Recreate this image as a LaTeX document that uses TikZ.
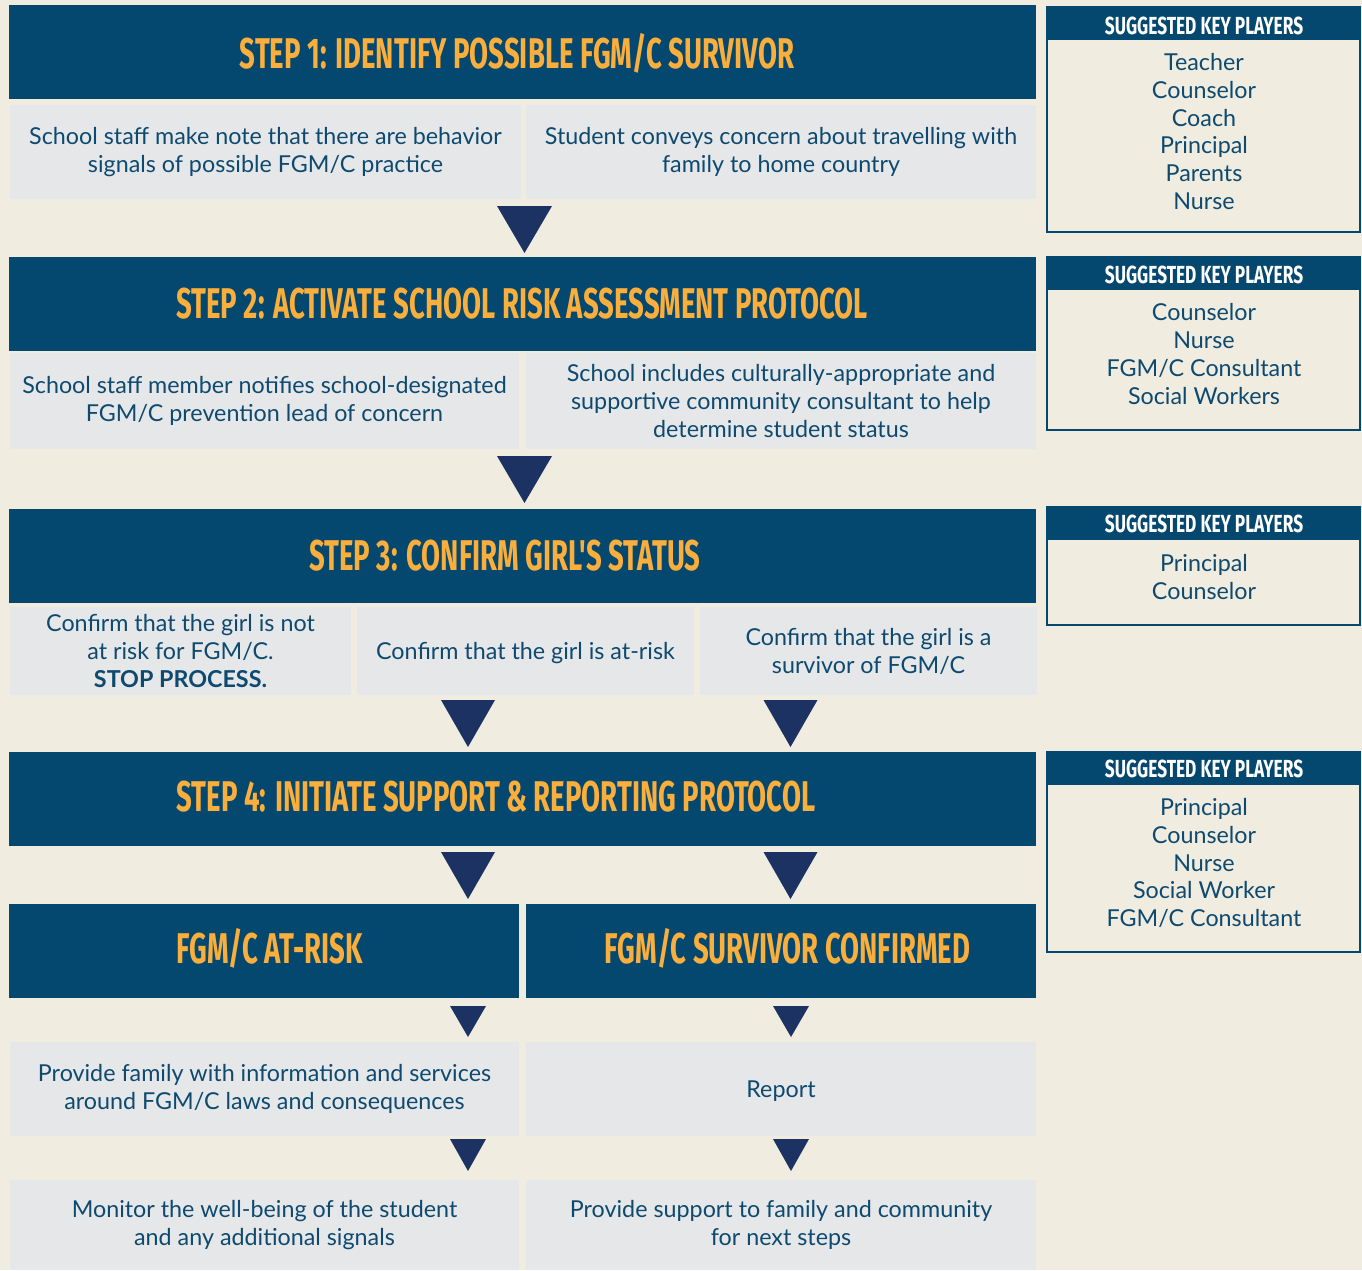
\documentclass[tikz,border=0pt]{standalone}
\usepackage{fontspec}
\setmainfont{Lato}
\newfontfamily\titlefont{Fira Sans Bold}[FakeStretch=0.64]
\newfontfamily\keyfont{Fira Sans Bold}[FakeStretch=0.70]
\definecolor{bgcream}{RGB}{240,236,223}
\definecolor{hdrblue}{RGB}{4,71,111}
\definecolor{boxgray}{RGB}{230,231,232}
\definecolor{trinavy}{RGB}{28,50,98}
\definecolor{titleorange}{RGB}{250,174,60}
\definecolor{txtblue}{RGB}{14,74,112}
\tikzset{
  hdr/.style={fill=hdrblue, inner sep=0pt, outer sep=0pt, minimum height=94pt},
  ttl/.style={text=titleorange, inner sep=0pt, font=\titlefont\fontsize{43}{43}\selectfont},
  graybox/.style={fill=boxgray, inner sep=0pt, outer sep=0pt, text=txtblue, align=center, font=\fontsize{23.3}{28}\selectfont},
  oneline/.style={text depth=0pt},
  tri/.style={fill=trinavy},
  keybox/.style={draw=hdrblue, line width=2.5pt, fill=bgcream, inner sep=0pt, minimum width=313pt},
  keyband/.style={fill=hdrblue, inner sep=0pt, minimum width=314pt, minimum height=34pt, anchor=north},
  keyhead/.style={text=white, inner sep=0pt, font=\keyfont\fontsize{24.7}{24.7}\selectfont},
  keytext/.style={text=txtblue, align=center, inner sep=0pt, font=\fontsize{23.3}{27.8}\selectfont}
}
\begin{document}
\begin{tikzpicture}[x=1pt,y=-1pt]
\fill[bgcream] (0,0) rectangle (1362,1270);
\useasboundingbox (0,0) rectangle (1362,1270);

% Step 1
\node[hdr, minimum width=1027pt] (h1) at (522.5,52) {};
\node[ttl] (t1) at (517,53) {STEP 1: IDENTIFY POSSIBLE FGM/C SURVIVOR};
\node[graybox, minimum width=511pt, minimum height=94pt] (b1l) at (265.5,152) {School staff make note that there are behavior\\signals of possible FGM/C practice};
\node[graybox, minimum width=510pt, minimum height=94pt] (b1r) at (781,152) {Student conveys concern about travelling with\\family to home country};
\fill[tri] (497,206) -- (552,206) -- (524.5,253) -- cycle;

% Step 2
\node[hdr, minimum width=1027pt] (h2) at (522.5,304) {};
\node[ttl] (t2) at (522,304) {STEP 2: ACTIVATE SCHOOL RISK ASSESSMENT PROTOCOL};
\node[graybox, minimum width=509pt, minimum height=96pt] (b2l) at (264.5,401) {School staff member notifies school-designated\\FGM/C prevention lead of concern};
\node[graybox, minimum width=510pt, minimum height=96pt] (b2r) at (781,401) {School includes culturally-appropriate and\\supportive community consultant to help\\determine student status};
\fill[tri] (497,456) -- (552,456) -- (524.5,503) -- cycle;

% Step 3
\node[hdr, minimum width=1027pt] (h3) at (522.5,556) {};
\node[ttl] (t3) at (505,556) {STEP 3: CONFIRM GIRL'S STATUS};
\node[graybox, minimum width=341pt, minimum height=88pt] (b3a) at (180.5,651) {Confirm that the girl is not\\at risk for FGM/C.\\\textbf{STOP PROCESS.}};
\node[graybox, oneline, minimum width=337pt, minimum height=88pt] (b3b) at (525.5,651) {Confirm that the girl is at-risk};
\node[graybox, minimum width=337pt, minimum height=88pt] (b3c) at (868.5,651) {Confirm that the girl is a\\survivor of FGM/C};
\fill[tri] (441,700) -- (495,700) -- (468,747) -- cycle;
\fill[tri] (763.5,700) -- (817.5,700) -- (790.5,747) -- cycle;

% Step 4
\node[hdr, minimum width=1027pt] (h4) at (522.5,799) {};
\node[ttl] (t4) at (496,797) {STEP 4: INITIATE SUPPORT \& REPORTING PROTOCOL};
\fill[tri] (441,852) -- (495,852) -- (468,899) -- cycle;
\fill[tri] (763.5,852) -- (817.5,852) -- (790.5,899) -- cycle;

% Branches
\node[hdr, minimum width=510pt] (h5l) at (264,951) {};
\node[ttl] (t5l) at (269.5,948) {FGM/C AT-RISK};
\node[hdr, minimum width=510pt] (h5r) at (781,951) {};
\node[ttl] (t5r) at (787.5,948) {FGM/C SURVIVOR CONFIRMED};
\fill[tri] (450,1006) -- (486,1006) -- (468,1037) -- cycle;
\fill[tri] (773,1006) -- (809,1006) -- (791,1037) -- cycle;
\node[graybox, minimum width=509pt, minimum height=94pt] (b5l) at (264.5,1089) {Provide family with information and services\\around FGM/C laws and consequences};
\node[graybox, oneline, minimum width=510pt, minimum height=94pt] (b5r) at (781,1089) {Report};
\fill[tri] (450,1139) -- (486,1139) -- (468,1171) -- cycle;
\fill[tri] (773,1139) -- (809,1139) -- (791,1171) -- cycle;
\node[graybox, minimum width=509pt, minimum height=90pt] (b6l) at (264.5,1225) {Monitor the well-being of the student\\and any additional signals};
\node[graybox, minimum width=510pt, minimum height=90pt] (b6r) at (781,1225) {Provide support to family and community\\for next steps};

% Key players
\node[keybox, minimum height=225pt] (k1) at (1203.5,119.5) {};
\node[keyband] (k1b) at (k1.north) {};
\node[keyhead] (k1h) at (1204,26) {SUGGESTED KEY PLAYERS};
\node[keytext] (k1t) at (1204,131.5) {Teacher\\Counselor\\Coach\\Principal\\Parents\\Nurse};

\node[keybox, minimum height=173pt] (k2) at (1203.5,343.5) {};
\node[keyband] (k2b) at (k2.north) {};
\node[keyhead] (k2h) at (1204,275) {SUGGESTED KEY PLAYERS};
\node[keytext] (k2t) at (1204,354) {Counselor\\Nurse\\FGM/C Consultant\\Social Workers};

\node[keybox, minimum height=118pt] (k3) at (1203.5,566) {};
\node[keyband] (k3b) at (k3.north) {};
\node[keyhead] (k3h) at (1204,524) {SUGGESTED KEY PLAYERS};
\node[keytext] (k3t) at (1204,577) {Principal\\Counselor};

\node[keybox, minimum height=200pt] (k4) at (1203.5,852) {};
\node[keyband] (k4b) at (k4.north) {};
\node[keyhead] (k4h) at (1204,769) {SUGGESTED KEY PLAYERS};
\node[keytext] (k4t) at (1204,863) {Principal\\Counselor\\Nurse\\Social Worker\\FGM/C Consultant};
\end{tikzpicture}
\end{document}
